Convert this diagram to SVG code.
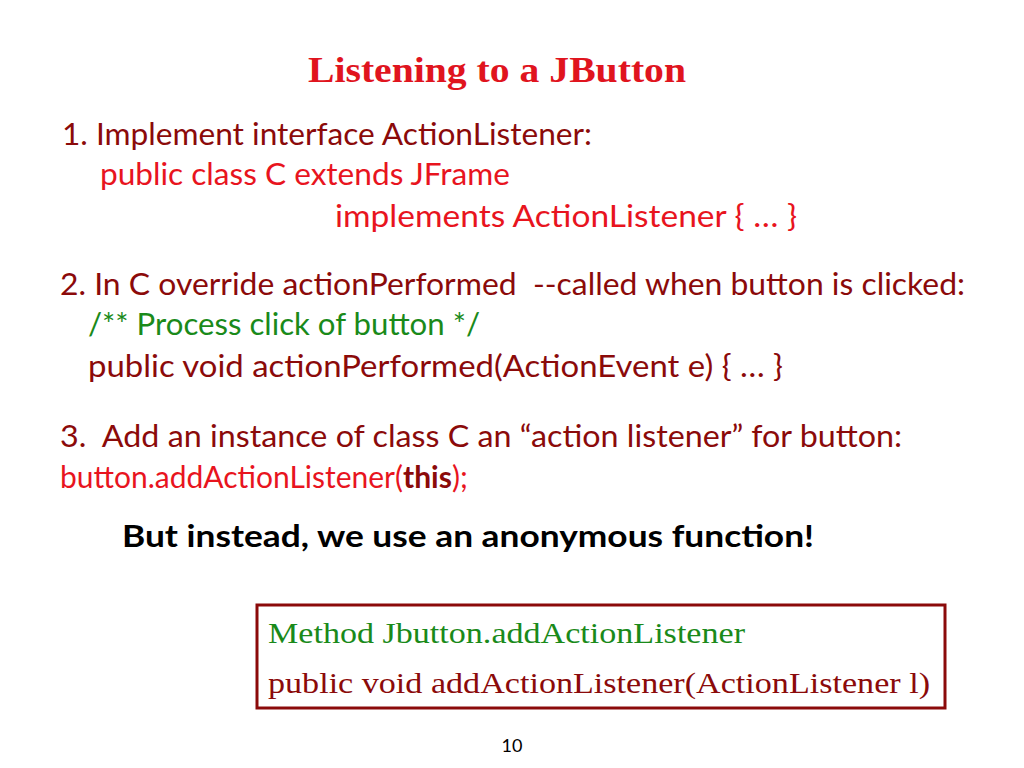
<svg xmlns="http://www.w3.org/2000/svg" width="1024" height="768" viewBox="0 0 1024 768">
<style>
.s{font-family:"Lato","Liberation Sans",sans-serif;font-size:30px}
.r{fill:#e8141e}.d{fill:#8b0a0a}.g{fill:#1a8a1a}
.sf{font-family:"Liberation Serif",serif;font-size:30px}
</style>
<rect width="1024" height="768" fill="#fff"/>
<text x="497" y="82" text-anchor="middle" font-family="Liberation Serif,serif" font-weight="bold" font-size="36" fill="#e0141e" textLength="378" lengthAdjust="spacingAndGlyphs">Listening to a JButton</text>
<text class="s d" x="62" y="145" textLength="530" lengthAdjust="spacingAndGlyphs">1. Implement interface ActionListener:</text>
<text class="s r" x="100" y="185" textLength="410" lengthAdjust="spacingAndGlyphs">public class C extends JFrame</text>
<text class="s r" x="335" y="227" textLength="462" lengthAdjust="spacingAndGlyphs">implements ActionListener { … }</text>
<text class="s d" x="60" y="295" textLength="905" lengthAdjust="spacingAndGlyphs" xml:space="preserve">2. In C override actionPerformed  --called when button is clicked:</text>
<text class="s g" x="88" y="335" textLength="392" lengthAdjust="spacingAndGlyphs">/** Process click of button */</text>
<text class="s d" x="88" y="377" textLength="695" lengthAdjust="spacingAndGlyphs">public void actionPerformed(ActionEvent e) { … }</text>
<text class="s d" x="60" y="447" textLength="842" lengthAdjust="spacingAndGlyphs" xml:space="preserve">3.  Add an instance of class C an “action listener” for button:</text>
<text class="s r" x="60" y="488">button.addActionListener(<tspan font-weight="bold" class="d">this</tspan>);</text>
<text class="s" x="122" y="547" font-weight="bold" fill="#000" textLength="692" lengthAdjust="spacingAndGlyphs">But instead, we use an anonymous function!</text>
<g id="box">
<rect x="257" y="605" width="688" height="103" fill="none" stroke="#8b0a0a" stroke-width="3"/>
<text class="sf g" x="268" y="643" textLength="477" lengthAdjust="spacingAndGlyphs">Method Jbutton.addActionListener</text>
<text class="sf d" x="268" y="693" textLength="662" lengthAdjust="spacingAndGlyphs">public void addActionListener(ActionListener l)</text>
</g>
<text x="512" y="752" text-anchor="middle" font-family="Lato,Liberation Sans,sans-serif" font-size="18" fill="#000">10</text>
</svg>
